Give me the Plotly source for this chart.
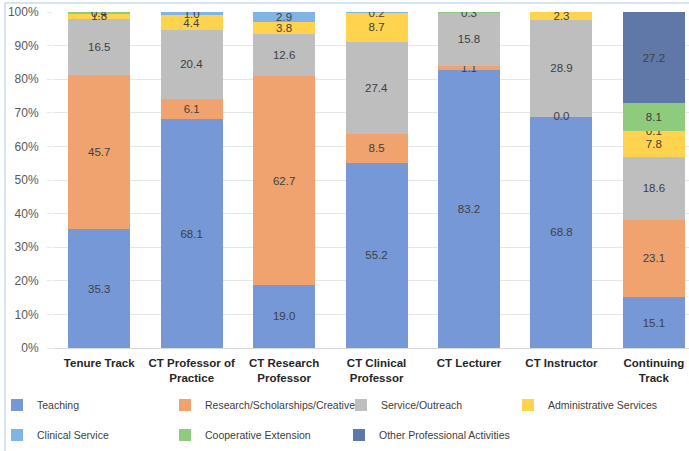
import plotly.graph_objects as go

categories = ["Tenure Track", "CT Professor of Practice", "CT Research Professor",
              "CT Clinical Professor", "CT Lecturer", "CT Instructor", "Continuing Track"]
tick_labels = ["<b>Tenure Track</b>", "<b>CT Professor of<br>Practice</b>", "<b>CT Research<br>Professor</b>",
               "<b>CT Clinical<br>Professor</b>", "<b>CT Lecturer</b>", "<b>CT Instructor</b>",
               "<b>Continuing<br>Track</b>"]

teaching = [35.3, 68.1, 19.0, 55.2, 83.2, 68.8, 15.1]
research = [45.7, 6.1, 62.7, 8.5, 1.1, 0.0, 23.1]
service = [16.5, 20.4, 12.6, 27.4, 15.8, 28.9, 18.6]
admin = [1.8, 4.4, 3.8, 8.7, None, 2.3, 7.8]
clinical = [None, 1.0, 2.9, 0.2, None, None, 0.1]
coop = [0.4, None, None, None, 0.3, None, 8.1]
other = [None, None, None, None, None, None, 27.2]

series = [
    ("Teaching", teaching, "#7698D6", "legend"),
    ("Research/Scholarships/Creative", research, "#F1A36F", "legend2"),
    ("Service/Outreach", service, "#BEBEBE", "legend3"),
    ("Administrative Services", admin, "#FFD34D", "legend4"),
    ("Clinical Service", clinical, "#80B3E6", "legend5"),
    ("Cooperative Extension", coop, "#8FCB7C", "legend6"),
    ("Other Professional Activities", other, "#5F78A8", "legend7"),
]

FONT = "Liberation Sans"
LABEL_FONT = dict(family=FONT, size=11.5, color="#404040")

fig = go.Figure()
for name, vals, color, lg in series:
    fig.add_trace(go.Bar(
        x=categories, y=vals, name=name, marker=dict(color=color, line=dict(width=0)),
        text=[("" if v is None else f"{v:.1f}") for v in vals],
        textposition="inside", insidetextanchor="middle",
        textfont=LABEL_FONT,
        legend=lg,
    ))

# labels for zero-height segments (placed at the stack boundary)
zx, zy, zt = [], [], []
for i, v in enumerate(research):
    if v == 0.0:
        tot = sum(s[1][i] or 0 for s in series)
        zx.append(categories[i]); zy.append(100 * teaching[i] / tot); zt.append(f"{v:.1f}")
fig.add_trace(go.Scatter(x=zx, y=zy, text=zt, mode="text", showlegend=False,
                         textfont=LABEL_FONT))

L, W = 53, 636
def px2x(px):
    return (px - L) / W
def py2y(py):
    return (348 - py) / 336

legend_pos = {
    "legend": (-3, 405), "legend2": (165, 405), "legend3": (341, 405), "legend4": (508, 405),
    "legend5": (-3, 435), "legend6": (165, 435), "legend7": (339, 435),
}
legend_layout = {}
for k, (px, py) in legend_pos.items():
    legend_layout[k] = dict(x=px2x(px), y=py2y(py), xanchor="left", yanchor="middle",
                            bgcolor="rgba(0,0,0,0)",
                            font=dict(family=FONT, size=10.5, color="#404040"),
                            itemwidth=30)

fig.update_layout(
    width=689, height=451,
    margin=dict(l=L, r=0, t=12, b=103, autoexpand=False),
    barmode="stack", barnorm="percent", bargap=0.33,
    plot_bgcolor="white", paper_bgcolor="white",
    font=dict(family=FONT, size=11, color="#595959"),
    uniformtext=dict(minsize=11.5, mode="show"),
    showlegend=True,
    **legend_layout,
)
fig.update_xaxes(tickvals=categories, ticktext=tick_labels, range=[-0.5, 6.38],
                 tickfont=dict(family=FONT, size=11.5, color="#262626"),
                 ticklabelstandoff=4, automargin=False,
                 showgrid=False, showline=True, linecolor="#D9D9D9", ticks="")
fig.update_yaxes(range=[0, 100], dtick=10, ticksuffix="%", showgrid=True, gridcolor="#E6E6E6",
                 zeroline=False, ticks="outside", ticklen=5, tickcolor="#E6E6E6",
                 ticklabelstandoff=6, automargin=False,
                 tickfont=dict(family=FONT, size=12, color="#595959"))
fig.add_shape(type="rect", xref="paper", yref="paper",
              x0=px2x(5), x1=1.2, y0=-0.5, y1=1 + 9 / 336,
              line=dict(color="#C9DAF0", width=1.5), fillcolor="rgba(0,0,0,0)", layer="below")

fig.write_html("out.html")
